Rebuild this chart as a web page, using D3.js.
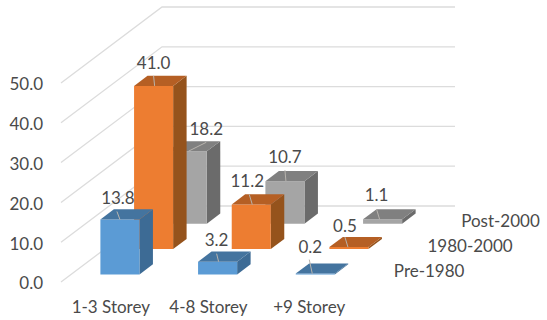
<!DOCTYPE html>
<html>
<head>
<meta charset="utf-8">
<script src="https://cdnjs.cloudflare.com/ajax/libs/d3/7.8.5/d3.min.js"></script>
<style>
  html, body { margin: 0; padding: 0; background: #fff; }
  svg { display: block; }
  text { font-family: Lato, "Noto Sans", sans-serif; font-size: 17px; fill: #4a4a4a; }
</style>
</head>
<body>
<svg id="chart" width="547" height="320"></svg>
<script>
// Building stock by height class and construction period
const categories = ["1-3 Storey", "4-8 Storey", "+9 Storey"];
const seriesNames = ["Pre-1980", "1980-2000", "Post-2000"];
const pre1980 = [13.8, 3.2, 0.2];
const from1980to2000 = [41.0, 11.2, 0.5];
const post2000 = [18.2, 10.7, 1.1];
const seriesValues = [pre1980, from1980to2000, post2000];
const valueTicks = [0, 10, 20, 30, 40, 50];

// Face shades per series: front, side, top
const faceColors = [
  { front: "#5b9bd5", side: "#3d6b95", top: "#44749f" },
  { front: "#ed7d31", side: "#95531c", top: "#b55f24" },
  { front: "#a5a5a5", side: "#6b6b6b", top: "#808080" }
];

// Label nudges from the middle of each bar's top front edge, [dx, dy] by series then category
const labelNudges = [
  [[-2, -15], [-1, -16], [-5, -21]],
  [[0, -17], [-4, -17], [-4, -15]],
  [[19, -16], [0, -18], [-6, -18]]
];
// Leader start offset from the same edge midpoint
const leaderNudges = [
  [[-3, -8], [-1, -8], [-6, -14]],
  [[0, -10], [-2, -10], [-4, -10]],
  [[19, -9], [0, -11], [-6, -10]]
];
// Horizontal shift of each category label
const categoryNudges = [0, 0, 3];

const svg = d3.select("#chart");

const originX = 61;
const depthRun = { x: 101, y: 76 };

const y = d3.scaleLinear().domain([0, 50]).range([282, 83]);
const x = d3.scaleBand().domain(categories).range([0, 293]).paddingInner(0.6).paddingOuter(0.3);
const depth = d3.scaleBand().domain(seriesNames).range([0, 1]).paddingInner(0.6).paddingOuter(0.3);

// Oblique projection: across, into the chart (0..1), and up by value
const project = (across, into, value) => [
  originX + across + into * depthRun.x,
  y(value) - into * depthRun.y
];

const polygon = d3.line();
const closed = pts => polygon(pts) + "Z";

// Side wall and back wall gridlines
const grid = svg.append("g").attr("fill", "none").attr("stroke", "#dcdcdc").attr("stroke-width", 1.3);
valueTicks.forEach(t => {
  grid.append("path").attr("d", polygon([
    project(0, 0, t),
    project(0, 1, t),
    project(x.range()[1], 1, t)
  ]));
});

// Bars, painted from the back row to the front row
const bars = svg.append("g");
d3.range(seriesNames.length).reverse().forEach(s => {
  const into0 = depth(seriesNames[s]);
  const into1 = into0 + depth.bandwidth();
  categories.forEach((c, i) => {
    const v = seriesValues[s][i];
    const a0 = x(c);
    const a1 = a0 + x.bandwidth();
    const col = faceColors[s];
    const g = bars.append("g");
    g.append("path").attr("fill", col.side).attr("d", closed([
      project(a1, into0, 0), project(a1, into1, 0), project(a1, into1, v), project(a1, into0, v)
    ]));
    g.append("path").attr("fill", col.front).attr("d", closed([
      project(a0, into0, 0), project(a1, into0, 0), project(a1, into0, v), project(a0, into0, v)
    ]));
    g.append("path").attr("fill", col.top).attr("d", closed([
      project(a0, into0, v), project(a1, into0, v), project(a1, into1, v), project(a0, into1, v)
    ]));
  });
});

// Leader lines and value labels
const labels = svg.append("g");
d3.range(seriesNames.length).forEach(s => {
  const into0 = depth(seriesNames[s]);
  categories.forEach((c, i) => {
    const v = seriesValues[s][i];
    const [mx, my] = project(x(c) + x.bandwidth() / 2, into0, v);
    const [lx, ly] = leaderNudges[s][i];
    const [tx, ty] = labelNudges[s][i];
    labels.append("path")
      .attr("fill", "none").attr("stroke", "#b8b4ae").attr("stroke-width", 1)
      .attr("d", polygon([[mx + lx, my + ly], [mx + Math.min(lx + 3, 1), my]]));
    labels.append("text")
      .attr("x", mx + tx).attr("y", my + ty)
      .attr("text-anchor", "middle")
      .text(d3.format(".1f")(v));
  });
});

// Value axis
const yAxis = d3.axisLeft(y).tickValues(valueTicks).tickFormat(d3.format(".1f")).tickSize(0).tickPadding(18);
svg.append("g").attr("transform", `translate(${originX},1.5)`).call(yAxis)
  .call(g => g.select(".domain").remove())
  .selectAll("text").style("font-size", "17px").style("font-family", "Lato").style("fill", "#4a4a4a");

// Category axis
const xAxis = d3.axisBottom(x).tickSize(0).tickPadding(0);
svg.append("g").attr("transform", `translate(${originX + 1},301)`).call(xAxis)
  .call(g => g.select(".domain").remove())
  .selectAll("text")
  .attr("dx", (d, i) => categoryNudges[i])
  .style("font-size", "17px").style("font-family", "Lato").style("fill", "#4a4a4a");

// Series names along the depth axis
seriesNames.forEach(name => {
  const [px, py] = project(x.range()[1], depth(name) + depth.bandwidth() / 2, 0);
  svg.append("text").attr("x", px + 23).attr("y", py + 8).text(name);
});
</script>
</body>
</html>
